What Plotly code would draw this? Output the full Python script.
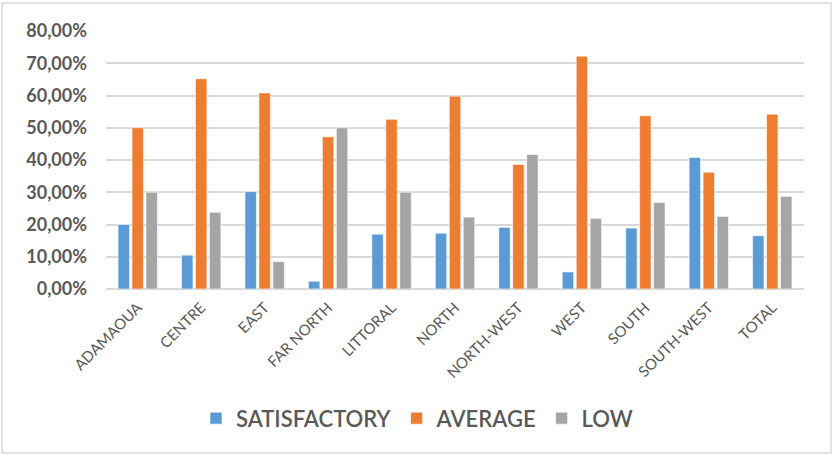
import plotly.graph_objects as go

# Regional shares by rating level
regions = ["ADAMAOUA", "CENTRE", "EAST", "FAR NORTH", "LITTORAL", "NORTH",
           "NORTH-WEST", "WEST", "SOUTH", "SOUTH-WEST", "TOTAL"]
satisfactory = [0.200, 0.105, 0.302, 0.024, 0.170, 0.173, 0.191, 0.053, 0.189, 0.408, 0.165]
average = [0.500, 0.652, 0.608, 0.472, 0.526, 0.598, 0.386, 0.722, 0.537, 0.362, 0.542]
low = [0.300, 0.238, 0.085, 0.500, 0.300, 0.223, 0.417, 0.219, 0.268, 0.225, 0.287]

y_ticks = [0, 0.1, 0.2, 0.3, 0.4, 0.5, 0.6, 0.7, 0.8]

series = [
    ("SATISFACTORY", satisfactory, "#5B9BD5"),
    ("AVERAGE", average, "#ED7D31"),
    ("LOW", low, "#A5A5A5"),
]

W, H = 834, 457
ml, mr, mt, mb = 106, 30, 31, 168
pw, ph = W - ml - mr, H - mt - mb

fig = go.Figure()
for name, vals, color in series:
    fig.add_trace(go.Bar(
        x=regions, y=vals, name=name,
        marker=dict(color=color, line=dict(color="white", width=0.6)),
    ))

text_color = "#595959"

fig.update_layout(
    width=W, height=H,
    margin=dict(l=ml, r=mr, t=mt, b=mb, autoexpand=False),
    paper_bgcolor="white", plot_bgcolor="white",
    barmode="group", bargap=0.34, bargroupgap=0.18,
    separators=", ",
    showlegend=True,
    legend=dict(
        orientation="h", x=(W / 2 - ml) / pw, xanchor="center",
        y=-0.42, yanchor="top",
        font=dict(family="Lato", size=22, color=text_color, weight=600),
        itemwidth=30, tracegroupgap=0,
    ),
    xaxis=dict(
        tickangle=-45, showgrid=False, zeroline=False,
        showline=False, ticks="", ticklabelstandoff=6,
        tickfont=dict(family="Lato", size=15, color=text_color),
    ),
    yaxis=dict(
        range=[0, 0.8], tickvals=y_ticks, tickformat=".2%",
        showgrid=True, gridcolor="#D9D9D9", gridwidth=1.5,
        zeroline=True, zerolinecolor="#D9D9D9", zerolinewidth=1.5,
        showline=False, ticks="", ticklabelstandoff=18,
        tickfont=dict(family="Lato", size=18, color=text_color, weight=700),
    ),
)

# Light frame around the whole chart
fig.add_shape(
    type="rect", xref="paper", yref="paper",
    x0=(2 - ml) / pw, x1=(831 - ml) / pw,
    y0=-(453 - mt - ph) / ph, y1=1 + (mt - 3) / ph,
    line=dict(color="#D9D9D9", width=1.5), fillcolor="rgba(0,0,0,0)",
    layer="below",
)

fig.write_html("out.html")
